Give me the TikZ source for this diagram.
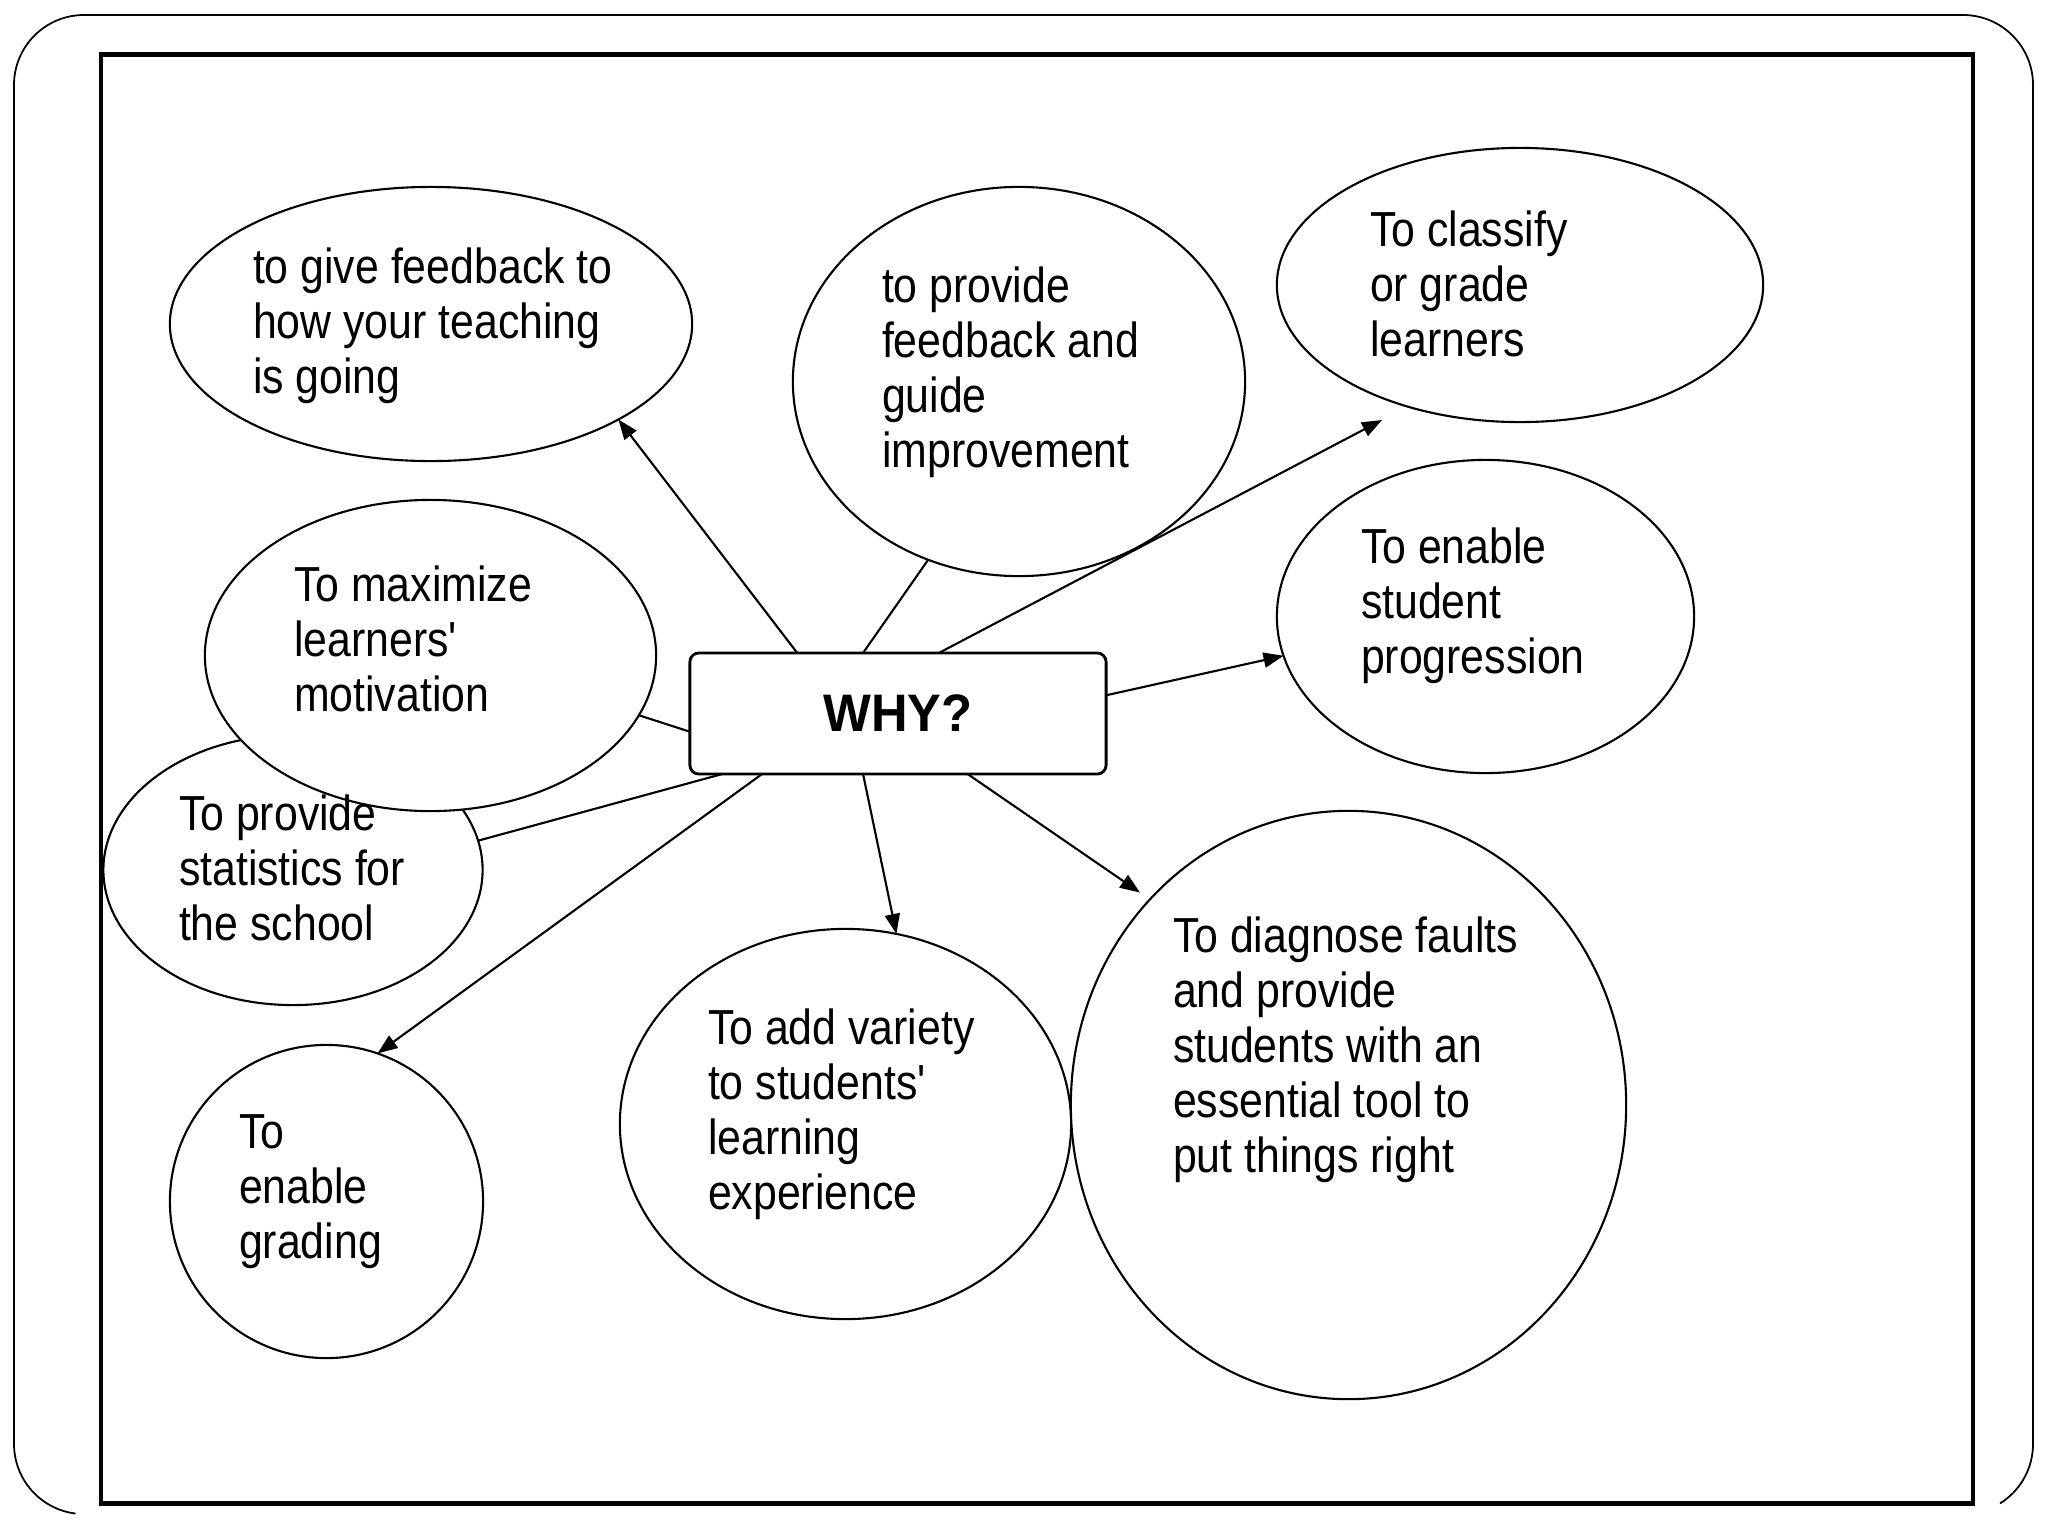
\documentclass[tikz,border=0pt]{standalone}
\usepackage{fontspec}
\setmainfont{Liberation Sans}[FakeStretch=0.87]
\newfontfamily\whyfont{Liberation Sans}[FakeStretch=0.96]
\usetikzlibrary{shapes.geometric,arrows.meta}
\begin{document}
\begin{tikzpicture}[x=0.01cm, y=-0.01cm,
  ell/.style={ellipse, draw, fill=white, line width=0.6pt, inner sep=0pt, outer sep=0pt},
  txt/.style={anchor=north west, inner sep=0pt, outer sep=0pt, align=left, font=\fontsize{14}{15.65}\selectfont},
  con/.style={line width=0.6pt},
  arr/.style={-{Triangle[length=0.2cm,width=0.15cm]}},
  whybox/.style={draw, fill=white, rounded corners=0.09cm, line width=0.8pt, inner sep=0pt, outer sep=0pt,
    minimum width=4.16cm, minimum height=1.21cm, font=\whyfont\fontsize{15}{18}\selectfont\bfseries}]
\useasboundingbox (0,0) rectangle (2048,1536);
% outer frame (open at the bottom)
\draw[line width=0.5pt] (75.5,1513.5) arc[start angle=97, end angle=180, radius=70]
  -- (14,85) arc[start angle=180, end angle=270, radius=70]
  -- (1963,15) arc[start angle=270, end angle=360, radius=70]
  -- (2033,1444) arc[start angle=0, end angle=58, radius=70];
% inner frame
\draw[line width=1.15pt] (101,54.5) rectangle (1973,1503.5);
% ellipses
\node[ell, minimum width=5.22cm, minimum height=2.74cm] (e1) at (431,324) {};
\node[ell, minimum width=4.52cm, minimum height=3.89cm] (e2) at (1019,381.5) {};
\node[ell, minimum width=4.86cm, minimum height=2.74cm] (e3) at (1520,285) {};
\node[ell, minimum width=4.17cm, minimum height=3.13cm] (e4) at (1485.5,616.5) {};
\node[ell, minimum width=3.79cm, minimum height=2.70cm] (e6) at (293,870) {};
\node[ell, minimum width=4.51cm, minimum height=3.11cm] (e5) at (430.5,655.5) {};
\node[ell, minimum width=3.13cm, minimum height=3.13cm] (e7) at (326.5,1201.5) {};
\node[ell, minimum width=4.51cm, minimum height=3.90cm] (e8) at (845.5,1124) {};
\node[ell, minimum width=5.55cm, minimum height=5.88cm] (e9) at (1348.5,1105) {};
% central box
\node[whybox] (why) at (898,713.5) {WHY?};
% connectors
\coordinate (c3) at (1382,420);
\draw[con,arr] (why.149.8) -- (e1.-27);
\draw[con] (why.120.8) -- (e2.-117);
\draw[con,arr] (why.56.5) -- (c3);
\draw[con,arr] (why.5.6) -- (e4.191);
\draw[con] (why.185.4) -- (e5.-16);
\draw[con] (why.-161.4) -- (e6.9.5);
\draw[con,arr] (why.-156.8) -- (e7.71);
\draw[con,arr] (why.-120.8) -- (e8.75);
\draw[con,arr,shorten >=0.12cm] (why.-41.2) -- (e9.134);
% texts
\node[txt] (t1) at (253,244.5) {\strut to give feedback to\\how your teaching\\is going};
\node[txt] (t2) at (882,263.5) {\strut to provide\\feedback and\\guide\\improvement};
\node[txt] (t3) at (1370,207.5) {\strut To classify\\or grade\\learners};
\node[txt] (t4) at (1361,524.5) {\strut To enable\\student\\progression};
\node[txt] (t5) at (294,562.5) {\strut To maximize\\learners\textquotesingle\\motivation};
\node[txt] (t6) at (179,791.5) {\strut To provide\\statistics for\\the school};
\node[txt] (t7) at (239,1109.5) {\strut To\\enable\\grading};
\node[txt] (t8) at (708,1005.5) {\strut To add variety\\to students\textquotesingle\\learning\\experience};
\node[txt] (t9) at (1173,913.5) {\strut To diagnose faults\\and provide\\students with an\\essential tool to\\put things right};
\end{tikzpicture}
\end{document}
